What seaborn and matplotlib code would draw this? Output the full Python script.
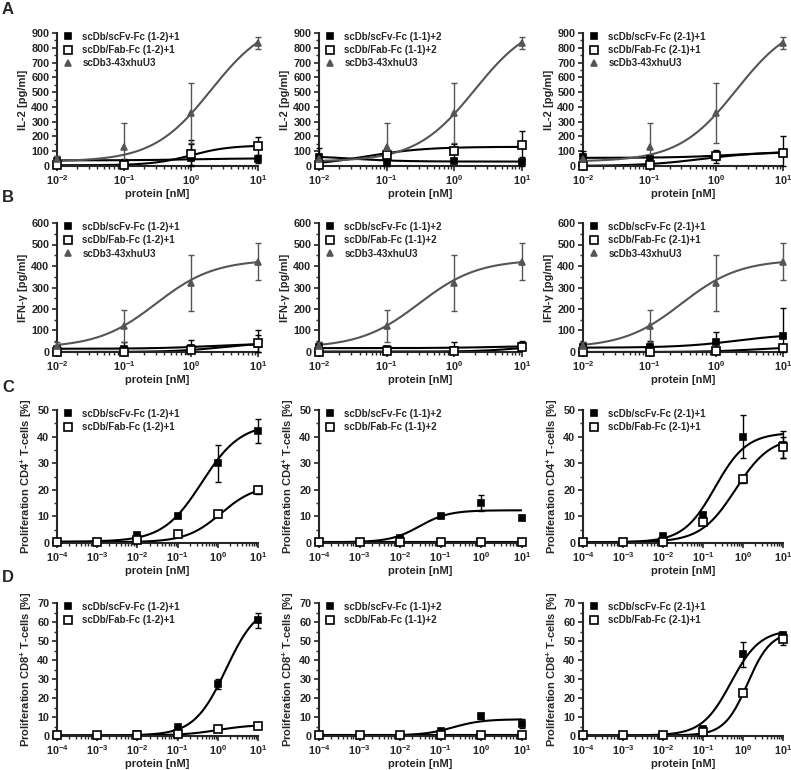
import numpy as np
import matplotlib
matplotlib.use("Agg")
import matplotlib.pyplot as plt
import seaborn as sns
from matplotlib.ticker import MultipleLocator, LogLocator, NullFormatter, LogFormatterMathtext

sns.set_style("ticks")
plt.rcParams['font.family'] = ['Liberation Sans', 'DejaVu Sans']
plt.rcParams['font.weight'] = 'bold'
plt.rcParams['axes.labelweight'] = 'bold'
plt.rcParams['mathtext.fontset'] = 'custom'
plt.rcParams['mathtext.rm'] = 'Liberation Sans:bold'
plt.rcParams['mathtext.it'] = 'Liberation Sans:bold'
plt.rcParams['mathtext.bf'] = 'Liberation Sans:bold'
plt.rcParams['mathtext.default'] = 'rm'

# ---------------- data ----------------
dose_cyt = [0.01, 0.1, 1, 10]
dose_prolif = [1e-4, 1e-3, 1e-2, 1e-1, 1, 10]

labels_scfv = ["scDb/scFv-Fc (1-2)+1", "scDb/scFv-Fc (1-1)+2", "scDb/scFv-Fc (2-1)+1"]
labels_fab = ["scDb/Fab-Fc (1-2)+1", "scDb/Fab-Fc (1-1)+2", "scDb/Fab-Fc (2-1)+1"]
label_ctrl = "scDb3-43xhuU3"

# IL-2 [pg/ml]
il2_scfv_mean = [[35, 15, 55, 45], [60, 20, 35, 30], [60, 50, 65, 90]]
il2_scfv_err = [[30, 30, 120, 27], [60, 20, 15, 30], [40, 20, 45, 110]]
il2_fab_mean = [[5, 5, 80, 135], [8, 75, 100, 140], [0, 10, 70, 85]]
il2_fab_err = [[5, 5, 70, 62], [5, 10, 50, 95], [3, 5, 30, 20]]
il2_ctrl_mean = [45, 130, 360, 830]
il2_ctrl_err = [20, 160, 205, 40]
# 4PL fits: bottom, top, EC50, hill
il2_scfv_fit = [[38, 52, 1.0, 1.0], [70, 30, 0.03, 1.2], [55, 100, 2.0, 1.0]]
il2_fab_fit = [[5, 140, 1.0, 1.5], [0, 130, 0.05, 1.0], [0, 95, 0.6, 1.0]]
il2_ctrl_fit = [30, 1000, 2.0, 1.0]

# IFN-gamma [pg/ml]
ifn_scfv_mean = [[15, 15, 20, 35], [25, 15, 10, 30], [25, 25, 45, 75]]
ifn_scfv_err = [[10, 30, 35, 65], [20, 15, 35, 20], [20, 25, 50, 130]]
ifn_fab_mean = [[0, 0, 10, 40], [0, 5, 5, 25], [0, 0, 5, 20]]
ifn_fab_err = [[5, 5, 10, 40], [5, 5, 5, 10], [3, 3, 5, 10]]
ifn_ctrl_mean = [30, 120, 320, 420]
ifn_ctrl_err = [15, 75, 130, 85]
ifn_scfv_fit = [[15, 40, 2.0, 1.0], [18, 30, 5.0, 1.0], [20, 85, 2.0, 1.0]]
ifn_fab_fit = [[0, 45, 3.0, 1.2], [2, 30, 8.0, 1.5], [0, 25, 4.0, 1.2]]
ifn_ctrl_fit = [20, 430, 0.3, 1.0]

# Proliferation CD4+ T-cells [%]
cd4_scfv_mean = [[0.5, 0.5, 3, 10, 30, 42], [0.3, 0.2, 2, 10, 15, 9.5], [0.5, 0.5, 2.5, 10.5, 40, 37]]
cd4_scfv_err = [[0.3, 0.3, 0.5, 0.5, 7, 4.5], [0.2, 0.2, 0.5, 0.5, 3, 1], [0.2, 0.3, 0.5, 1, 8, 5]]
cd4_fab_mean = [[0.5, 0.3, 1, 3.3, 11, 20], [0.3, 0.3, 0.3, 0.3, 0.3, 0.3], [0.5, 0.5, 0.5, 8, 24, 36]]
cd4_fab_err = [[0.2, 0.2, 0.3, 0.5, 1.2, 1.5], [0.1, 0.1, 0.1, 0.1, 0.1, 0.1], [0.2, 0.2, 0.2, 0.5, 1.5, 4]]
cd4_scfv_fit = [[0.5, 45, 0.4, 0.9], [0.3, 12.3, 0.03, 1.2], [0.3, 41.5, 0.2, 1.1]]
cd4_fab_fit = [[0.3, 22, 1.2, 1.0], [0.3, 0.3, 1.0, 1.0], [0.3, 40, 0.65, 1.0]]

# Proliferation CD8+ T-cells [%]
cd8_scfv_mean = [[0.3, 0.3, 1, 4.5, 27.5, 61], [0.3, 0.3, 0.5, 2.5, 10.5, 6.5], [0.3, 0.3, 0.5, 3.5, 43, 53]]
cd8_scfv_err = [[0.2, 0.2, 0.3, 0.5, 2.5, 4], [0.1, 0.1, 0.2, 0.5, 1.5, 2.5], [0.1, 0.1, 0.2, 0.5, 6.5, 1.5]]
cd8_fab_mean = [[0.3, 0.3, 0.5, 1.3, 3.7, 5.5], [0.3, 0.3, 0.3, 0.3, 0.3, 0.3], [0.3, 0.3, 0.5, 2, 22.5, 51]]
cd8_fab_err = [[0.1, 0.1, 0.2, 0.3, 0.5, 1], [0.1, 0.1, 0.1, 0.1, 0.1, 0.1], [0.1, 0.1, 0.2, 0.3, 1, 3]]
cd8_scfv_fit = [[0.3, 70, 1.6, 1.1], [0.3, 8.8, 0.2, 1.2], [0.3, 56, 0.5, 1.2]]
cd8_fab_fit = [[0.3, 6, 1.0, 1.0], [0.3, 0.3, 1.0, 1.0], [0.3, 55, 1.3, 1.5]]

# ---------------- layout ----------------
W, H = 791, 770
fig = plt.figure(figsize=(W / 100, H / 100), dpi=100)

col_px = [(57, 258), (319, 522), (583, 783)]
row_px = [(33, 166), (223, 352), (410, 543), (603, 736)]

GRAY = '#555555'
FS = 7
TFS = 7.8


def fourpl(x, p):
    b, t, ec, h = p
    return b + (t - b) / (1 + (ec / x) ** h)


def make_ax(r, c):
    x0, x1 = col_px[c]
    y0, y1 = row_px[r]
    return fig.add_axes([x0 / W, 1 - y1 / H, (x1 - x0) / W, (y1 - y0) / H])


def draw_series(ax, x, mean, err, fit, xmin, color, marker, mfc, ms, label):
    xs = np.logspace(np.log10(xmin), 1, 300)
    sns.lineplot(x=xs, y=fourpl(xs, fit), ax=ax, color=color, lw=1.5, legend=False)
    mean = np.asarray(mean, float)
    err = np.asarray(err, float)
    lower = np.minimum(err, mean)
    ax.errorbar(x, mean, yerr=[lower, err], fmt='none', ecolor=color, elinewidth=1.0,
                capsize=2.5, capthick=1.0, clip_on=False, zorder=3)
    ax.plot(x, mean, linestyle='none', marker=marker, color=color, mfc=mfc, mec=color,
            ms=ms, mew=1.2, clip_on=False, zorder=4, label=label)


def style_ax(ax, xmin, ymax, ymajor, ylabel):
    ax.set_xscale('log')
    ax.set_xlim(xmin, 10)
    ax.set_ylim(0, ymax)
    ax.yaxis.set_major_locator(MultipleLocator(ymajor))
    ax.yaxis.set_minor_locator(MultipleLocator(ymajor / 2))
    ax.xaxis.set_major_locator(LogLocator(base=10, numticks=20))
    ax.xaxis.set_minor_locator(LogLocator(base=10, subs=np.arange(2, 10), numticks=20))
    ax.xaxis.set_major_formatter(LogFormatterMathtext())
    ax.xaxis.set_minor_formatter(NullFormatter())
    sns.despine(ax=ax)
    for s in ('left', 'bottom'):
        ax.spines[s].set_linewidth(1.5)
    ax.tick_params(which='major', length=3.5, width=1.2, labelsize=TFS, pad=2)
    ax.tick_params(which='minor', length=2, width=1.0)
    for lab in ax.get_yticklabels():
        lab.set_fontweight('bold')
    ax.set_xlabel('protein [nM]', fontsize=8, fontweight='bold', labelpad=1)
    ax.set_ylabel(ylabel, fontsize=8, fontweight='bold', labelpad=2)
    ax.legend(loc='upper left', bbox_to_anchor=(0.01, 1.04), frameon=False,
              handlelength=1.0, handletextpad=1.0, labelspacing=0.35, borderaxespad=0,
              prop={'weight': 'bold', 'size': FS})


rows = [
    ("IL-2 [pg/ml]", dose_cyt, 1e-2, 900, 100, il2_scfv_mean, il2_scfv_err, il2_scfv_fit,
     il2_fab_mean, il2_fab_err, il2_fab_fit, (il2_ctrl_mean, il2_ctrl_err, il2_ctrl_fit)),
    ("IFN-γ [pg/ml]", dose_cyt, 1e-2, 600, 100, ifn_scfv_mean, ifn_scfv_err, ifn_scfv_fit,
     ifn_fab_mean, ifn_fab_err, ifn_fab_fit, (ifn_ctrl_mean, ifn_ctrl_err, ifn_ctrl_fit)),
    (r"Proliferation CD4$^{+}$ T-cells [%]", dose_prolif, 1e-4, 50, 10, cd4_scfv_mean, cd4_scfv_err,
     cd4_scfv_fit, cd4_fab_mean, cd4_fab_err, cd4_fab_fit, None),
    (r"Proliferation CD8$^{+}$ T-cells [%]", dose_prolif, 1e-4, 70, 10, cd8_scfv_mean, cd8_scfv_err,
     cd8_scfv_fit, cd8_fab_mean, cd8_fab_err, cd8_fab_fit, None),
]

for r, (ylab, x, xmin, ymax, ymaj, sm, se, sf, fm, fe, ff, ctrl) in enumerate(rows):
    for c in range(3):
        ax = make_ax(r, c)
        draw_series(ax, x, sm[c], se[c], sf[c], xmin, 'black', 's', 'black', 4.6, labels_scfv[c])
        draw_series(ax, x, fm[c], fe[c], ff[c], xmin, 'black', 's', 'white', 5.6, labels_fab[c])
        if ctrl is not None:
            draw_series(ax, x, ctrl[0], ctrl[1], ctrl[2], xmin, GRAY, '^', GRAY, 4.2, label_ctrl)
        style_ax(ax, xmin, ymax, ymaj, ylab)

for letter, ypx in zip("ABCD", [9, 198, 387, 577]):
    fig.text(2 / W, 1 - ypx / H, letter, fontsize=12, fontweight='bold', va='center', ha='left')

fig.savefig("out.png", dpi=100)
